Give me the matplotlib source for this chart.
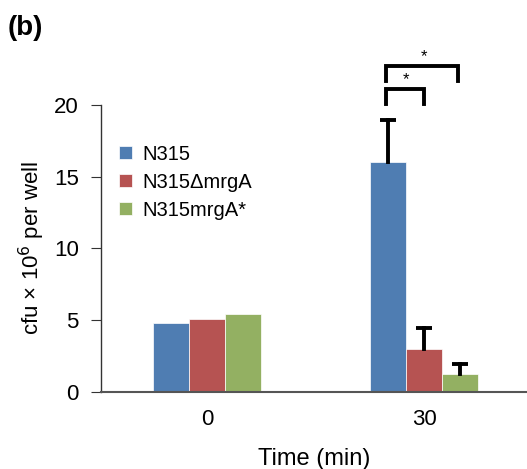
import numpy as np
import matplotlib.pyplot as plt

plt.rcParams['font.family'] = ['Liberation Sans', 'DejaVu Sans']

times = ['0', '30']
strains = ['N315', 'N315\u0394mrgA', 'N315mrgA*']
colors = ['#4F7DB2', '#B65352', '#93B062']
values = [[4.8, 16.0], [5.1, 3.0], [5.4, 1.25]]
errors = [[0, 2.95], [0, 1.45], [0, 0.7]]

fig = plt.figure(figsize=(5.27, 4.69), dpi=100)
ax = fig.add_axes([0.1917, 0.1642, 0.8083, 0.612])

x = np.arange(len(times))
w = 0.166
for i in range(len(strains)):
    pos = x + (i - 1) * w
    ax.bar(pos, values[i], w, color=colors[i], label=strains[i],
           edgecolor='white', linewidth=0.5)
    # upper error bars only
    for p, v, e in zip(pos, values[i], errors[i]):
        if e > 0:
            ax.plot([p, p], [v, v + e], color='black', lw=2.8)
            ax.plot([p], [v + e], marker='_', ms=11, mew=2.8, color='black')

# significance brackets
def bracket(x1, x2, y_low, y_top, star_x):
    ax.plot([x1, x1, x2, x2], [y_low, y_top, y_top, y_low], color='black',
            lw=2.8, clip_on=False, solid_joinstyle='miter')
    ax.text(star_x, y_top + 0.15, '*', ha='center', va='bottom', fontsize=12,
            clip_on=False)

bracket(x[1] - w * 1.05, x[1] + w * 0.0, 20.1, 21.1, x[1] - w * 0.5)
bracket(x[1] - w * 1.05, x[1] + w * 0.95, 21.7, 22.7, x[1] - w * 0.0)

ax.set_xlim(-0.4885, 1.4747)
ax.set_ylim(0, 20)
ax.set_yticks([0, 5, 10, 15, 20])
ax.set_xticks(x)
ax.set_xticklabels(times)
ax.tick_params(axis='x', length=0, pad=12, labelsize=16)
ax.tick_params(axis='y', length=7, direction='out', labelsize=16, pad=9, color='#333333')
ax.spines['top'].set_visible(False)
ax.spines['right'].set_visible(False)
ax.spines['left'].set_color('#333333')
ax.spines['bottom'].set_color('#555555')
ax.spines['left'].set_linewidth(1.0)
ax.spines['bottom'].set_linewidth(1.5)

ax.set_ylabel('cfu \u00d7 10$^6$ per well', fontsize=16, labelpad=5)
ax.set_xlabel('Time (min)', fontsize=17, labelpad=13)

ax.legend(loc='upper left', bbox_to_anchor=(0.0, 0.925), frameon=False,
          fontsize=14.5, handlelength=0.65, handleheight=0.65, handletextpad=0.5,
          labelspacing=0.45)

fig.text(0.015, 0.925, '(b)', fontsize=20, fontweight='bold')

fig.savefig('out.png', dpi=100)
